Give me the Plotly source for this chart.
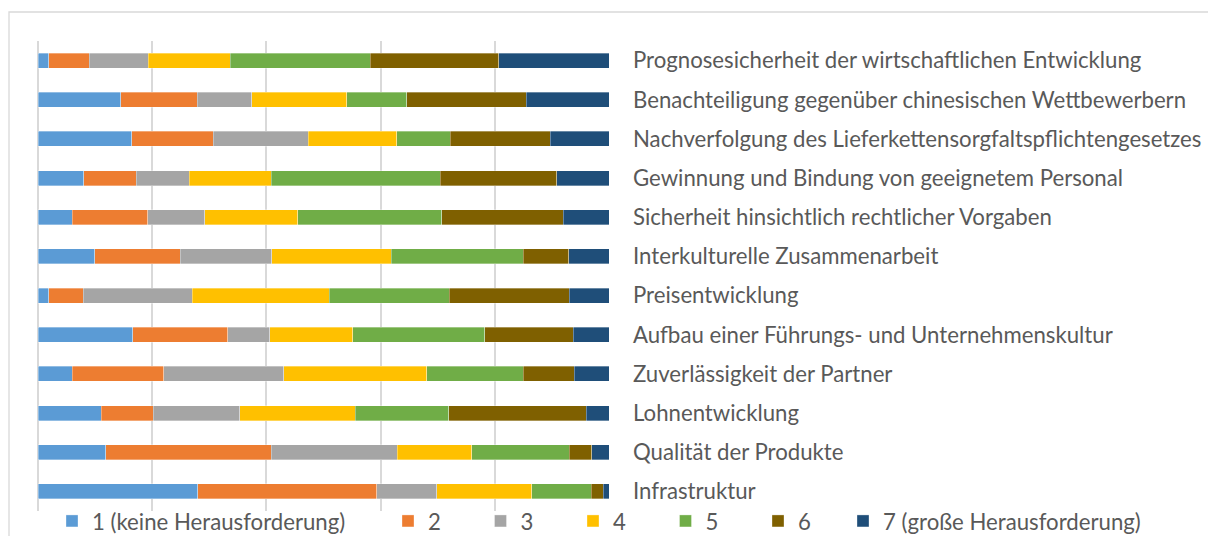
import plotly.graph_objects as go

categories = [
    "Prognosesicherheit der wirtschaftlichen Entwicklung",
    "Benachteiligung gegenüber chinesischen Wettbewerbern",
    "Nachverfolgung des Lieferkettensorgfaltspflichtengesetzes",
    "Gewinnung und Bindung von geeignetem Personal",
    "Sicherheit hinsichtlich rechtlicher Vorgaben",
    "Interkulturelle Zusammenarbeit",
    "Preisentwicklung",
    "Aufbau einer Führungs- und Unternehmenskultur",
    "Zuverlässigkeit der Partner",
    "Lohnentwicklung",
    "Qualität der Produkte",
    "Infrastruktur",
]

series_names = [
    "1 (keine Herausforderung)", "2", "3", "4", "5", "6", "7 (große Herausforderung)",
]

s1 = [1.9, 14.5, 16.4, 8.0, 6.0, 9.9, 1.9, 16.6, 6.0, 11.1, 11.9, 28.0]
s2 = [7.1, 13.4, 14.3, 9.2, 13.2, 15.0, 6.0, 16.7, 16.0, 9.1, 29.0, 31.3]
s3 = [10.3, 9.5, 16.6, 9.3, 10.0, 16.0, 19.1, 7.3, 21.0, 15.1, 22.1, 10.5]
s4 = [14.3, 16.7, 15.5, 14.3, 16.3, 20.9, 24.0, 14.6, 25.1, 20.3, 13.0, 16.7]
s5 = [24.5, 10.5, 9.3, 29.6, 25.2, 23.1, 21.0, 23.1, 16.9, 16.3, 17.1, 10.4]
s6 = [22.5, 20.9, 17.5, 20.4, 21.3, 8.0, 21.0, 15.5, 8.9, 24.1, 4.0, 2.1]
s7 = [19.3, 14.5, 10.3, 9.1, 8.0, 7.0, 7.0, 6.3, 6.1, 4.0, 3.0, 1.0]

series_values = [s1, s2, s3, s4, s5, s6, s7]
colors = ["#5B9BD5", "#ED7D31", "#A5A5A5", "#FFC000", "#70AD47", "#7F6000", "#1F4E79"]
legend_ids = ["legend", "legend2", "legend2", "legend2", "legend2", "legend2", "legend3"]

FONT = "Lato"
FS = 22.2
TXT = "#595959"

# body margin is removed in the page, so figure coordinates == page coordinates
W, H = 1208, 536
L, R_EDGE, T, B_EDGE = 37, 610, 41, 511
pw, ph = R_EDGE - L, B_EDGE - T
PAD = 100.0 / 571  # one pixel in data units, so the 0 % and 100 % grid lines are drawn


def px_x(px):
    return (px - L) / pw


def px_y(py):
    return (B_EDGE - py) / ph


fig = go.Figure()
for name, vals, col, lg in zip(series_names, series_values, colors, legend_ids):
    fig.add_trace(go.Bar(
        y=categories, x=vals, name=name, orientation="h",
        marker=dict(color=col, line=dict(width=0.6, color="rgba(255,255,255,0.55)")),
        legend=lg,
    ))

legend_common = dict(
    orientation="h", yanchor="middle", xanchor="left", traceorder="normal",
    font=dict(family=FONT, size=FS, color=TXT),
    bgcolor="rgba(0,0,0,0)", borderwidth=0, itemclick=False,
)

fig.update_layout(
    width=W, height=H,
    margin=dict(l=L, r=W - R_EDGE, t=T, b=H - B_EDGE, pad=0, autoexpand=False),
    paper_bgcolor="white", plot_bgcolor="white",
    barmode="stack", barnorm="percent", bargap=0.617,
    showlegend=True,
    font=dict(family=FONT, size=FS, color=TXT),
    xaxis=dict(
        range=[-PAD, 100 + PAD], showticklabels=False, ticks="",
        showgrid=True, gridcolor="#D9D9D9", gridwidth=1.6, tick0=0, dtick=20,
        zeroline=True, zerolinecolor="#D9D9D9", zerolinewidth=1.6,
        showline=False, fixedrange=True,
    ),
    yaxis=dict(
        side="right", autorange="reversed", ticks="", showgrid=False,
        showline=False, ticklabelstandoff=22,
        tickfont=dict(family=FONT, size=FS, color=TXT),
    ),
    legend=dict(x=px_x(52), y=px_y(521), **legend_common),
    legend2=dict(x=px_x(388), y=px_y(521), entrywidth=47.5, entrywidthmode="pixels", **legend_common),
    legend3=dict(x=px_x(843), y=px_y(521), **legend_common),
    shapes=[dict(
        type="rect", xref="paper", yref="paper",
        x0=px_x(9), x1=px_x(1240), y0=px_y(570), y1=px_y(12),
        line=dict(color="#D9D9D9", width=1.3), fillcolor="rgba(0,0,0,0)", layer="below",
    )],
)

fig.write_html(
    "out.html",
    config={"displayModeBar": False},
    post_script="document.body.style.margin='0';document.body.style.overflow='hidden';",
)
